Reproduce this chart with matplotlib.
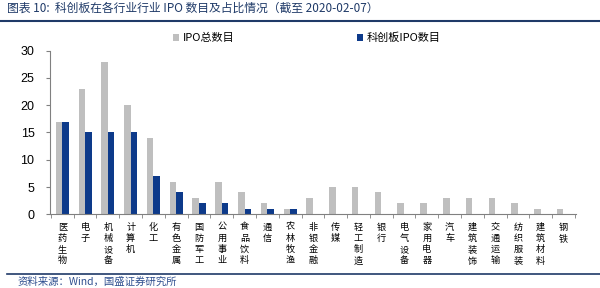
import matplotlib
matplotlib.use("Agg")
import matplotlib.pyplot as plt
from matplotlib.lines import Line2D
import numpy as np

plt.rcParams['font.family'] = ['Noto Sans CJK SC', 'DejaVu Sans']

# data
industries = ['医药生物', '电子', '机械设备', '计算机', '化工', '有色金属', '国防军工',
              '公用事业', '食品饮料', '通信', '农林牧渔', '非银金融', '传媒', '轻工制造',
              '银行', '电气设备', '家用电器', '汽车', '建筑装饰', '交通运输', '纺织服装',
              '建筑材料', '钢铁']
ipo_total = [17, 23, 28, 20, 14, 6, 3, 6, 4, 2, 1, 3, 5, 5, 4, 2, 2, 3, 3, 3, 2, 1, 1]
star_ipo = [17, 15, 15, 15, 7, 4, 2, 2, 1, 1, 1, 0, 0, 0, 0, 0, 0, 0, 0, 0, 0, 0, 0]
yticks = [0, 5, 10, 15, 20, 25, 30]

gray = '#BFBFBF'
blue = '#0D3A8A'
navy = '#1F3A68'

fig = plt.figure(figsize=(6, 2.88), dpi=100)
ax = fig.add_axes([0.083, 0.256, 0.877, 0.568])

x = np.arange(len(industries))
w = 0.29
ax.bar(x - w / 2, ipo_total, w, color=gray, label='IPO总数目')
ax.bar(x + w / 2, star_ipo, w, color=blue, label='科创板IPO数目')

ax.set_xlim(-0.55, len(industries) - 0.45)
ax.set_ylim(0, 30)
ax.set_yticks(yticks)
ax.tick_params(axis='y', labelsize=9, length=3, color='#808080', pad=8)
for t in ax.get_yticklabels():
    t.set_family(['Liberation Sans', 'DejaVu Sans'])

ax.set_xticks(x)
ax.set_xticklabels(['\n'.join(s) for s in industries], fontsize=6.6, linespacing=1.32,
                   va='top')
ax.tick_params(axis='x', length=0, pad=6)
ax.set_xticks(np.arange(len(industries) + 1) - 0.5, minor=True)
ax.tick_params(axis='x', which='minor', length=3, color='#808080', direction='out')

for side in ['top', 'right']:
    ax.spines[side].set_visible(False)
ax.spines['left'].set_color('#808080')
ax.spines['bottom'].set_color('#808080')

ax.legend(loc='lower left', bbox_to_anchor=(0.225, 1.02), ncol=2, frameon=False,
          fontsize=8, handlelength=0.6, handleheight=0.6, handletextpad=0.3,
          columnspacing=11.0, borderaxespad=0)

fig.text(0.012, 0.972, '图表 10:  科创板在各行业行业 IPO 数目及占比情况（截至 2020-02-07）',
         fontsize=8.5, color=navy, style='italic', va='center')
fig.add_artist(Line2D([0.0, 1.0], [0.928, 0.928], color=navy, lw=1.5))
fig.add_artist(Line2D([0.012, 1.0], [0.049, 0.049], color=navy, lw=1.2))
fig.text(0.03, 0.022, '资料来源：Wind，国盛证券研究所', fontsize=7.5, color='#2F4F8F',
         style='italic', va='center')

fig.savefig('out.png', dpi=100)
